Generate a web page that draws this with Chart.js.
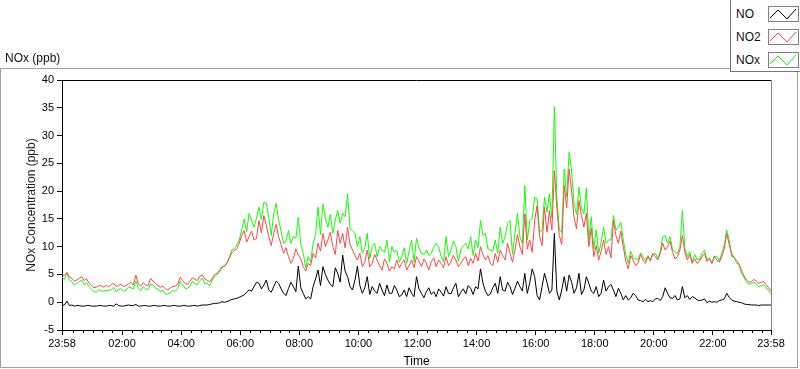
<!DOCTYPE html>
<html>
<head>
<meta charset="utf-8">
<script src="https://cdn.jsdelivr.net/npm/chart.js@4.4.1/dist/chart.umd.min.js"></script>
<style>
  html, body { margin: 0; padding: 0; background: #fff; }
  body { width: 800px; height: 369px; position: relative; overflow: hidden;
         font-family: "Liberation Sans", Arial, sans-serif; color: #111; }
  #frame { position: absolute; left: 0; top: 68px; width: 796px; height: 298px; border: 1px solid #a0a0a0; }
  #chart { position: absolute; left: 0; top: 0; }
  #title { position: absolute; left: 5px; top: 51px; font-size: 12px; }
  #legend { position: absolute; left: 730px; top: 0; width: 69px; height: 71px; background: #fff;
            border-left: 1px solid #777; border-bottom: 1px solid #777; }
  .row { position: absolute; left: 5px; height: 16px; font-size: 12px; line-height: 16px; }
  .row span { position: absolute; left: 0; top: 0; }
  .row svg { position: absolute; left: 32px; top: 0; }
</style>
</head>
<body>
<div id="frame"></div>
<canvas id="chart" width="800" height="369"></canvas>
<div id="title">NOx (ppb)</div>
<div id="legend"></div>
<script>
// 5-minute samples starting at 23:58; "A" arrays hold the samples at 0,10,20.. min,
// "B" arrays the samples in between (5,15,25.. min)
const STEP = 5;
const tickLabels = ['23:58','02:00','04:00','06:00','08:00','10:00','12:00','14:00','16:00','18:00','20:00','22:00','23:58'];

const noA = [
  -0.6,0.2,-0.5,-0.6,-0.7,-0.6,-0.7,-0.7,-0.6,-0.7,
  -0.6,-0.3,-0.7,-0.6,-0.6,-0.4,-0.7,-0.6,-0.7,-0.6,
  -0.7,-0.6,-0.7,-0.6,-0.7,-0.6,-0.7,-0.6,-0.6,-0.5,
  -0.4,-0.2,-0.1,0.0,0.3,0.6,0.9,1.3,2.2,2.8,
  3.4,3.1,2.2,2.8,3.4,1.6,2.5,2.8,6.5,1.6,
  1.0,2.8,5.8,6.4,4.0,2.8,5.2,8.5,4.6,2.2,
  6.5,1.6,4.6,2.8,1.6,2.2,3.1,1.6,2.2,1.3,
  1.0,1.6,4.6,1.6,1.9,1.4,1.0,1.8,2.8,1.5,
  3.4,1.8,1.5,2.5,2.8,6.0,2.0,1.5,3.4,4.6,
  2.0,2.8,2.5,2.8,5.2,3.5,4.6,0.4,5.2,1.6,
  12.4,0.4,4.6,4.9,1.6,5.2,2.2,3.4,1.6,1.0,
  4.0,2.8,2.2,2.5,0.4,0.4,1.6,0.4,0.1,0.1,
  0.1,0.7,1.0,1.6,0.7,0.4,2.8,1.2,1.0,0.4,
  0.4,-0.1,0.0,0.0,0.4,1.6,0.4,0.1,-0.1,-0.4,
  -0.5,-0.5,-0.5,-0.5,-0.5
];
const noB = [
  -0.5,-0.6,-0.7,-0.6,-0.7,-0.6,-0.7,-0.6,-0.7,-0.6,
  -0.7,-0.6,-0.7,-0.5,-0.6,-0.7,-0.6,-0.7,-0.6,-0.7,
  -0.6,-0.7,-0.6,-0.7,-0.6,-0.7,-0.6,-0.7,-0.5,-0.5,
  -0.3,-0.2,0.1,0.1,0.5,0.7,1.1,1.8,2.0,3.6,
  2.4,4.0,1.8,3.8,2.4,1.2,3.6,1.9,2.6,0.6,
  0.6,4.2,3.0,5.0,3.2,6.2,3.6,5.6,2.8,4.0,
  3.0,2.6,1.4,2.0,3.4,1.2,1.6,3.0,1.0,2.2,
  2.6,1.0,2.4,0.8,2.6,1.9,2.4,1.1,1.6,2.6,
  1.0,2.4,3.0,1.4,2.4,3.4,1.2,2.6,1.6,2.2,
  3.6,1.4,3.8,2.0,1.6,6.0,1.2,2.8,3.6,2.2,
  2.0,2.2,2.0,3.6,2.6,1.4,4.6,2.0,2.8,1.6,
  2.0,3.2,1.0,1.6,1.2,0.8,1.2,0.3,0.5,0.3,
  0.6,0.3,2.6,0.8,1.2,0.6,0.8,0.5,0.8,0.3,
  0.6,0.2,0.1,0.3,0.6,0.9,0.2,0.0,-0.3,-0.4,
  -0.5,-0.6,-0.5,-0.5
];
const no2A = [
  5.0,5.4,4.3,4.0,4.6,4.2,3.0,2.7,2.9,3.0,
  3.2,2.8,3.3,3.0,3.6,4.9,2.9,3.1,4.3,3.4,
  2.7,2.4,2.6,2.9,4.5,3.4,3.8,4.1,4.7,4.2,
  3.7,5.0,5.8,6.5,8.0,9.3,10.6,12.9,11.8,11.2,
  14.7,15.6,11.8,12.4,11.8,8.8,8.2,7.9,8.5,6.4,
  7.0,8.8,10.6,12.4,11.2,10.0,12.9,12.4,13.5,9.4,
  7.6,6.4,9.4,7.0,7.6,5.8,7.0,6.4,7.6,7.0,
  5.8,7.6,8.2,6.4,7.0,7.3,6.4,7.0,8.2,7.3,
  7.6,7.0,8.2,7.9,8.8,10.0,7.6,7.0,8.8,9.4,
  7.6,8.8,9.4,10.0,15.9,11.2,14.7,11.8,17.1,16.5,
  23.7,12.0,21.0,24.0,15.3,18.3,13.5,10.0,8.2,7.6,
  11.2,10.0,14.7,10.6,10.0,6.0,7.6,7.0,7.6,8.2,
  8.8,7.6,10.6,10.0,9.0,8.2,12.0,7.6,7.0,7.0,
  8.2,7.3,7.0,7.6,8.2,12.4,8.8,7.6,5.8,4.0,
  3.7,3.8,3.6,3.2,2.0
];
const no2B = [
  4.8,4.6,3.8,4.3,3.9,3.4,2.6,3.0,2.7,2.8,
  3.4,3.0,2.8,3.3,3.1,3.3,3.5,3.0,3.8,3.0,
  2.9,2.2,2.8,3.2,3.9,3.2,4.4,3.9,4.9,3.9,
  4.3,5.2,6.3,7.0,8.9,9.6,12.0,10.8,12.8,11.5,
  12.5,13.8,10.2,14.0,10.4,9.8,7.0,9.6,7.8,5.6,
  6.6,8.0,9.2,10.0,12.6,8.6,10.6,9.8,10.4,8.4,
  8.8,7.2,6.4,8.6,6.6,7.8,5.6,6.0,6.2,7.6,
  6.6,6.2,7.4,7.8,5.8,8.0,7.6,6.2,6.6,8.4,
  6.4,7.8,6.6,7.0,7.4,8.6,8.4,6.6,7.2,8.4,
  10.6,7.2,12.2,8.6,9.6,9.0,17.4,10.2,12.6,13.0,
  17.0,10.4,17.0,20.0,13.2,15.6,16.0,13.4,10.2,9.2,
  8.6,8.0,12.0,12.8,7.4,8.4,6.6,8.6,7.0,7.4,
  8.2,8.8,9.4,11.0,7.8,9.4,9.0,8.6,7.8,7.4,
  8.8,7.8,8.2,7.2,9.6,10.4,8.0,6.8,4.8,3.6,
  4.1,3.4,3.7,2.6
];
const noxA = [
  4.5,5.2,3.7,3.4,4.0,3.5,2.3,1.8,2.0,2.1,
  2.3,1.9,2.4,2.2,2.6,3.8,2.1,2.4,3.3,2.5,
  1.9,1.4,1.7,2.0,3.8,2.5,2.9,3.3,3.9,3.4,
  3.0,4.6,5.4,6.5,8.1,9.6,11.2,15.0,16.0,13.5,
  17.1,18.0,15.3,16.0,14.7,10.6,12.9,11.8,15.3,8.8,
  8.2,10.6,17.1,17.7,13.5,12.4,16.5,16.0,19.5,12.9,
  10.0,8.8,12.4,10.0,8.2,9.4,11.2,10.0,9.4,8.2,
  7.0,11.2,11.5,8.8,9.4,8.8,10.6,8.2,11.8,9.4,
  10.0,9.4,10.6,11.8,11.2,14.7,12.4,9.4,11.2,13.5,
  11.8,14.7,12.4,11.8,21.0,14.7,18.9,12.6,18.9,19.5,
  35.2,13.0,24.0,27.0,17.7,20.7,15.9,11.2,9.5,8.8,
  13.5,11.2,15.6,13.5,11.2,7.0,8.0,7.6,8.2,8.4,
  8.6,7.9,11.8,10.6,9.5,8.8,16.5,8.2,7.2,7.6,
  8.8,7.6,7.0,8.2,8.8,13.0,8.2,7.0,5.2,3.7,
  3.4,3.3,3.0,2.6,1.5
];
const noxB = [
  4.1,4.0,3.1,3.7,3.2,2.8,1.9,2.3,2.0,2.1,
  2.7,2.3,2.0,2.7,2.4,2.6,2.8,2.3,3.1,2.3,
  2.2,1.5,2.1,2.5,3.2,2.5,3.8,3.2,4.3,3.4,
  4.0,5.0,6.4,7.1,9.4,10.3,13.0,12.6,14.8,15.1,
  14.9,17.8,12.0,17.8,12.8,11.0,10.6,11.5,10.4,6.2,
  7.2,12.2,12.2,15.0,15.8,14.8,14.2,15.4,13.2,12.4,
  11.8,9.8,7.8,10.6,10.0,9.0,7.2,9.0,7.2,9.8,
  9.2,7.2,9.8,8.6,8.4,9.9,10.0,7.3,8.2,11.0,
  7.4,10.2,9.6,8.4,9.8,12.0,9.6,9.2,8.8,10.6,
  14.2,8.6,16.0,10.6,11.2,15.0,18.6,13.0,16.2,15.2,
  19.0,12.6,19.0,23.6,15.8,17.0,20.6,15.4,13.0,10.8,
  10.6,11.2,13.0,14.4,8.6,9.2,7.8,8.9,7.5,7.7,
  8.8,9.1,12.0,11.8,9.0,10.0,9.8,9.1,8.6,7.7,
  9.4,8.0,8.3,7.5,10.2,11.3,8.2,6.8,4.5,3.2,
  3.6,2.8,3.2,2.1
];

const START = 23 * 60 + 58;
const toMin = s => { const [h, m] = s.split(':').map(Number); return ((h * 60 + m - START) + 1440) % 1440; };
const majorMin = tickLabels.map((s, i) => i === tickLabels.length - 1 ? 1440 : toMin(s));
const minorMin = [];
for (let t = 2 + 20; t < 1440; t += 20) if (!majorMin.includes(t)) minorMin.push(t);

// merge the two sample sets into one time-ordered list of points
const pts = (a, b) => {
  const out = [];
  a.forEach((v, i) => {
    out.push({ x: i * 2 * STEP, y: v });
    if (i < b.length) out.push({ x: (i * 2 + 1) * STEP, y: b[i] });
  });
  return out;
};
const series = [
  { label: 'NO',   data: pts(noA, noB),   color: '#000000' },
  { label: 'NO2',  data: pts(no2A, no2B), color: '#ff4646' },
  { label: 'NOx',  data: pts(noxA, noxB), color: '#10ff00' }
];

const frameLines = {
  id: 'frameLines',
  afterDraw(c) {
    const { ctx, chartArea: a, scales: { x } } = c;
    ctx.save();
    ctx.lineWidth = 1;
    ctx.strokeStyle = '#000';
    ctx.beginPath();
    ctx.moveTo(a.left, a.top + 0.5); ctx.lineTo(a.right, a.top + 0.5);
    minorMin.forEach(m => {
      const px = Math.round(x.getPixelForValue(m)) + 0.5;
      ctx.moveTo(px, a.bottom); ctx.lineTo(px, a.bottom + 3);
    });
    ctx.stroke();
    ctx.strokeStyle = '#8a8a8a';
    ctx.beginPath();
    ctx.moveTo(Math.round(a.right) + 0.5, a.top); ctx.lineTo(Math.round(a.right) + 0.5, a.bottom);
    ctx.stroke();
    ctx.restore();
  }
};

new Chart(document.getElementById('chart'), {
  type: 'line',
  data: {
    datasets: series.map(s => ({
      label: s.label, data: s.data, borderColor: s.color, backgroundColor: s.color,
      borderWidth: 1, pointRadius: 0, tension: 0, fill: false
    }))
  },
  options: {
    responsive: false,
    animation: false,
    layout: { padding: { left: 0, top: 80, right: 29, bottom: 0 } },
    plugins: { legend: { display: false }, tooltip: { enabled: false } },
    scales: {
      x: {
        type: 'linear', min: 0, max: 1440,
        afterBuildTicks: s => { s.ticks = majorMin.map(v => ({ value: v })); },
        afterFit: s => { s.height = 39; },
        ticks: {
          autoSkip: false, maxRotation: 0, color: '#000', padding: 2,
          font: { family: 'Liberation Sans', size: 11 },
          callback: v => tickLabels[majorMin.indexOf(v)]
        },
        grid: { drawOnChartArea: false, tickLength: 5, color: '#000' },
        border: { color: '#000' },
        title: { display: true, text: 'Time', color: '#000', padding: { top: 0, bottom: 0 },
                 font: { family: 'Liberation Sans', size: 12 } }
      },
      y: {
        min: -5, max: 40,
        afterFit: s => { s.width = 62; },
        ticks: { stepSize: 5, color: '#000', padding: 3, font: { family: 'Liberation Sans', size: 11 } },
        grid: { drawOnChartArea: false, tickLength: 5, color: '#000' },
        border: { color: '#000' },
        title: { display: true, text: 'NOx Concentration (ppb)', color: '#222',
                 padding: { top: 24, bottom: 0 }, font: { family: 'Liberation Sans', size: 12 } }
      }
    }
  },
  plugins: [frameLines]
});

// legend box, top right
const legend = document.getElementById('legend');
series.forEach((s, i) => {
  const row = document.createElement('div');
  row.className = 'row';
  row.style.top = (6 + i * 23) + 'px';
  row.innerHTML = '<span>' + s.label + '</span>' +
    '<svg width="31" height="16"><rect x="0.5" y="0.5" width="30" height="15" fill="#fff" stroke="#808080"/>' +
    '<polyline points="2,12 10,4 19,13 28,3" fill="none" stroke="' + s.color + '" stroke-width="1"/></svg>';
  legend.appendChild(row);
});
</script>
</body>
</html>
